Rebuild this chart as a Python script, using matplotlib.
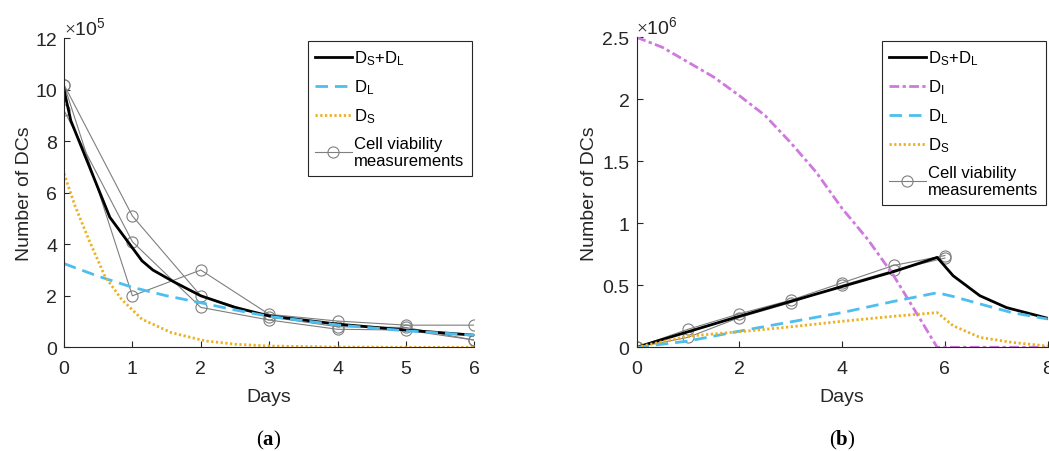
import matplotlib
matplotlib.use("Agg")
import matplotlib.pyplot as plt

plt.rcParams['font.family'] = ['Liberation Sans', 'DejaVu Sans']
plt.rcParams['mathtext.fontset'] = 'custom'
plt.rcParams['mathtext.rm'] = 'Liberation Serif'
plt.rcParams['mathtext.bf'] = 'Liberation Serif:bold'

# ---------------- Panel (a) data (units of 1e5 cells) ----------------
days_meas_a = [0, 1, 2, 3, 4, 5, 6]
meas_a1 = [10.2, 2.0, 3.0, 1.28, 1.02, 0.86, 0.86]
meas_a2 = [10.2, 5.1, 2.0, 1.18, 0.80, 0.77, 0.28]
meas_a3 = [9.2, 4.1, 1.55, 1.06, 0.70, 0.67, 0.28]

t_total_a = [0, 0.1, 0.67, 1.14, 1.3, 1.6, 2.0, 2.5, 3, 4, 5, 6]
total_a = [10.0, 8.8, 5.05, 3.36, 3.0, 2.55, 2.0, 1.55, 1.22, 0.90, 0.67, 0.47]

t_dl_a = [0, 0.5, 1, 1.5, 2, 2.5, 3, 4, 5, 6]
dl_a = [3.25, 2.76, 2.33, 2.0, 1.73, 1.45, 1.2, 0.87, 0.64, 0.47]

t_ds_a = [0, 0.16, 0.36, 0.6, 0.84, 1.14, 1.57, 2.06, 2.5, 3, 4, 5, 6]
ds_a = [6.75, 5.5, 4.2, 2.75, 1.87, 1.09, 0.57, 0.25, 0.12, 0.05, 0.01, 0.0, 0.0]

yticks_a = [0, 2, 4, 6, 8, 10, 12]
xticks_a = [0, 1, 2, 3, 4, 5, 6]

# ---------------- Panel (b) data (units of 1e6 cells) ----------------
days_meas_b = [0, 1, 2, 3, 4, 5, 6]
meas_b1 = [0, 0.145, 0.27, 0.38, 0.52, 0.66, 0.74]
meas_b2 = [0, 0.08, 0.24, 0.36, 0.50, 0.62, 0.72]

t_total_b = [0, 1, 2, 3, 4, 5, 5.85, 6.16, 6.68, 7.2, 8]
total_b = [0, 0.125, 0.25, 0.37, 0.49, 0.61, 0.725, 0.577, 0.416, 0.32, 0.234]

t_di_b = [0, 0.5, 1, 1.5, 2, 2.5, 3, 3.5, 4, 4.5, 5, 5.5, 5.85, 6, 7, 8]
di_b = [2.5, 2.42, 2.30, 2.18, 2.03, 1.87, 1.65, 1.41, 1.12, 0.87, 0.58, 0.24, 0, 0, 0, 0]

t_dlds_b = [0, 1, 2, 3, 4, 5, 5.85, 6.16, 6.68, 7.3, 8]
dl_b = [0, 0.05, 0.13, 0.205, 0.28, 0.37, 0.44, 0.41, 0.35, 0.28, 0.228]
ds_b = [0, 0.09, 0.125, 0.165, 0.21, 0.25, 0.28, 0.174, 0.08, 0.04, 0.01]

yticks_b = [0, 0.5, 1, 1.5, 2, 2.5]
ytick_labels_b = ['0', '0.5', '1', '1.5', '2', '2.5']
xticks_b = [0, 2, 4, 6, 8]

# ---------------- styles ----------------
C_BLUE = '#4DBEEE'
C_ORANGE = '#EDB120'
C_MAG = '#CF78DE'
C_GRAY = '#7F7F7F'
C_AX = '#262626'
FS = 14
LFS = 12

W, H = 1049, 452
fig = plt.figure(figsize=(W / 100, H / 100), dpi=100)


def px_ax(l, r, t, b):
    return [l / W, 1 - b / H, (r - l) / W, (b - t) / H]


def style_axes(ax):
    for s in ['top', 'right']:
        ax.spines[s].set_visible(False)
    for s in ['left', 'bottom']:
        ax.spines[s].set_color(C_AX)
        ax.spines[s].set_linewidth(0.8)
    ax.tick_params(direction='in', length=4, width=0.8, colors=C_AX,
                   labelsize=FS)
    ax.tick_params(axis='x', pad=9)
    ax.tick_params(axis='y', pad=5)


meas_kw = dict(color=C_GRAY, lw=0.8, marker='o', ms=8, mfc='none',
               mec=C_GRAY, mew=0.8)

leg_kw = dict(loc='upper right', bbox_transform=fig.transFigure,
              borderaxespad=0, fancybox=False, edgecolor=C_AX, framealpha=1,
              fontsize=LFS, handlelength=2.2, handletextpad=0.15,
              labelspacing=0.62, borderpad=0.45)

# ---------------- Panel (a) ----------------
ax1 = fig.add_axes(px_ax(64, 474.3, 39.3, 348.3))
l_meas, = ax1.plot(days_meas_a, meas_a1, **meas_kw)
ax1.plot(days_meas_a, meas_a2, **meas_kw)
ax1.plot(days_meas_a, meas_a3, **meas_kw)
l_tot, = ax1.plot(t_total_a, total_a, color='black', lw=2)
l_dl, = ax1.plot(t_dl_a, dl_a, color=C_BLUE, lw=2, dashes=(4.5, 2.5))
l_ds, = ax1.plot(t_ds_a, ds_a, color=C_ORANGE, lw=2, dashes=(0.8, 0.9))
ax1.set_xlim(0, 6)
ax1.set_ylim(0, 12)
ax1.set_xticks(xticks_a)
ax1.set_yticks(yticks_a)
style_axes(ax1)
ax1.set_xlabel('Days', fontsize=FS, color=C_AX, labelpad=8)
ax1.set_ylabel('Number of DCs', fontsize=FS, color=C_AX, labelpad=2)
ax1.text(0.0, 1.0, r'$\times\mathregular{10^5}$', transform=ax1.transAxes,
         ha='left', va='bottom', fontsize=FS, color=C_AX)
leg1 = ax1.legend([l_tot, l_dl, l_ds, l_meas],
                  [r'$\mathregular{D_S{+}D_L}$', r'$\mathregular{D_L}$',
                   r'$\mathregular{D_S}$', 'Cell viability\nmeasurements'],
                  bbox_to_anchor=(472 / W, 1 - 42 / H), **leg_kw)
leg1.get_frame().set_linewidth(0.8)

# ---------------- Panel (b) ----------------
ax2 = fig.add_axes(px_ax(636.5, 1047.7, 38.3, 348.3))
m_meas, = ax2.plot(days_meas_b, meas_b1, **meas_kw)
ax2.plot(days_meas_b, meas_b2, **meas_kw)
m_tot, = ax2.plot(t_total_b, total_b, color='black', lw=2)
m_di, = ax2.plot(t_di_b, di_b, color=C_MAG, lw=2, dashes=(3.5, 1.2, 1.2, 1.2))
m_dl, = ax2.plot(t_dlds_b, dl_b, color=C_BLUE, lw=2, dashes=(4.5, 2.5))
m_ds, = ax2.plot(t_dlds_b, ds_b, color=C_ORANGE, lw=2, dashes=(0.8, 0.9))
ax2.set_xlim(0, 8)
ax2.set_ylim(0, 2.5)
ax2.set_xticks(xticks_b)
ax2.set_yticks(yticks_b)
ax2.set_yticklabels(ytick_labels_b)
style_axes(ax2)
ax2.set_xlabel('Days', fontsize=FS, color=C_AX, labelpad=8)
ax2.set_ylabel('Number of DCs', fontsize=FS, color=C_AX, labelpad=3)
ax2.text(0.0, 1.0, r'$\times\mathregular{10^6}$', transform=ax2.transAxes,
         ha='left', va='bottom', fontsize=FS, color=C_AX)
leg2 = ax2.legend([m_tot, m_di, m_dl, m_ds, m_meas],
                  [r'$\mathregular{D_S{+}D_L}$', r'$\mathregular{D_I}$',
                   r'$\mathregular{D_L}$', r'$\mathregular{D_S}$',
                   'Cell viability\nmeasurements'],
                  bbox_to_anchor=(1046 / W, 1 - 42 / H), **leg_kw)
leg2.get_frame().set_linewidth(0.8)

# ---------------- captions ----------------
fig.text(269 / W, 1 - 440 / H, r'($\mathbf{a}$)', ha='center', va='center',
         fontsize=15, family='Liberation Serif')
fig.text(842 / W, 1 - 440 / H, r'($\mathbf{b}$)', ha='center', va='center',
         fontsize=15, family='Liberation Serif')

fig.savefig('out.png', dpi=100)
